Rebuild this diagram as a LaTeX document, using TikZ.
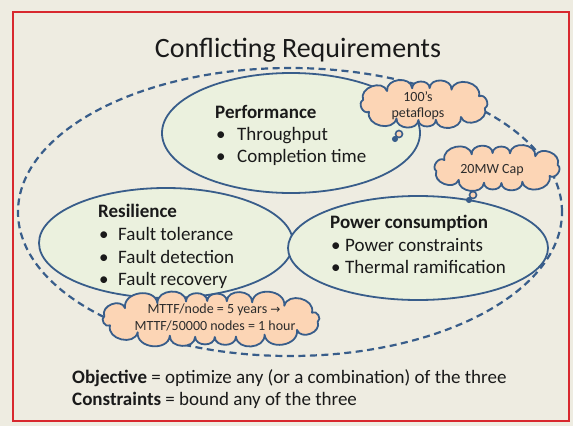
\documentclass[tikz,border=0pt]{standalone}
\usepackage{fontspec}
\setmainfont{Carlito}
\newfontfamily\symfont{DejaVu Sans}
\usetikzlibrary{shapes.geometric}

\definecolor{paper}{HTML}{EEECE1}
\definecolor{frame}{HTML}{D8282E}
\definecolor{edge}{HTML}{385D8A}
\definecolor{areafill}{HTML}{EBF1DE}
\definecolor{puff}{HTML}{FCD5B5}
\definecolor{ink}{HTML}{1A1A1A}

\tikzset{
  outerframe/.style={draw=frame, line width=2pt},
  scopering/.style={ellipse, draw=edge, line width=2.2pt, dash pattern=on 7pt off 4.5pt, inner sep=0pt},
  reqarea/.style={ellipse, draw=edge, fill=areafill, line width=1.8pt, inner sep=0pt},
  note/.style={draw=edge, fill=puff, line width=1.8pt, line join=round},
  puffedge/.style={bend left=90, looseness=1.3},
  tailring/.style={circle, draw=edge, fill=puff, line width=1.6pt, inner sep=0pt, minimum size=7pt},
  taildot/.style={circle, draw=edge, fill=edge, line width=1pt, inner sep=0pt, minimum size=5pt},
  body/.style={inner sep=0pt, anchor=base west, text=ink, font=\fontsize{19}{23}\selectfont},
  head/.style={body, font=\fontsize{19}{23}\selectfont\bfseries},
  notetext/.style={inner sep=0pt, anchor=base, text=ink!92, font=\fontsize{14}{17}\selectfont},
  titletext/.style={inner sep=0pt, anchor=base, text=ink, font=\fontsize{28}{32}\selectfont}
}

% cloud callout: centre x, centre y, radii of the core ellipse, number of puffs, phase;
% the puff points are spread so that the puffs come out of similar size
\newcommand\puffcloud[6]{%
  \draw[note] ({#1+#3*cos(#6+14.3*sin(2*#6))},{#2+#4*sin(#6+14.3*sin(2*#6))})
    foreach \k in {1,...,#5} {
      to[puffedge] ({#1+#3*cos(#6+\k*360/#5+14.3*sin(2*(#6+\k*360/#5)))},
                    {#2+#4*sin(#6+\k*360/#5+14.3*sin(2*(#6+\k*360/#5)))})
    } -- cycle;%
}

\begin{document}
\begin{tikzpicture}[x=1pt, y=-1pt]
\useasboundingbox (0,0) rectangle (573,426);
\fill[paper] (0,0) rectangle (573,426);
\draw[outerframe] (13,12) rectangle (569,421);

% title
\node[titletext] (title) at (298,57) {Conflicting Requirements};

% dashed envelope around the three requirement areas
\node[scopering, minimum width=544pt, minimum height=288pt] (scope) at (290,212) {};

% requirement areas
\node[reqarea, minimum width=258pt, minimum height=120pt] (perf) at (291,133) {};
\node[reqarea, minimum width=254pt, minimum height=110pt] (resil) at (166,243) {};
\node[reqarea, minimum width=260pt, minimum height=104pt] (power) at (418,248) {};

% Performance
\node[head] (perfhead) at (215,118) {Performance};
\node[body] (perfb1) at (216,140) {\textbullet};
\node[body] (perfi1) at (237,140) {Throughput};
\node[body] (perfb2) at (216,162) {\textbullet};
\node[body] (perfi2) at (237,162) {Completion time};

% Resilience
\node[head] (resilhead) at (98,217) {Resilience};
\node[body] (resilb1) at (99,240) {\textbullet};
\node[body] (resili1) at (118,240) {Fault tolerance};
\node[body] (resilb2) at (99,263) {\textbullet};
\node[body] (resili2) at (118,263) {Fault detection};
\node[body] (resilb3) at (99,285) {\textbullet};
\node[body] (resili3) at (118,285) {Fault recovery};

% Power consumption
\node[head] (powerhead) at (330,228) {Power consumption};
\node[body] (powerb1) at (331,251) {\textbullet};
\node[body] (poweri1) at (345,251) {Power constraints};
\node[body] (powerb2) at (331,273) {\textbullet};
\node[body] (poweri2) at (345,273) {Thermal ramification};

% callout clouds
\puffcloud{424}{104}{63}{16}{12}{10}
\node[tailring] (flopsring) at (399,134) {};
\node[taildot] (flopsdot) at (395,139) {};
\node[notetext] (flops1) at (418,101) {100’s};
\node[notetext] (flops2) at (418,117) {petaflops};

\puffcloud{497}{168}{62}{15}{12}{-8}
\node[tailring] (capring) at (473,195) {};
\node[taildot] (capdot) at (469,200) {};
\node[notetext] (cap1) at (492,173) {20MW Cap};

\puffcloud{211}{319}{108}{18}{18}{6}
\node[notetext] (mttf1) at (214,313) {MTTF/node = 5 years {\symfont\fontsize{12}{14}\selectfont →}};
\node[notetext] (mttf2) at (215,330) {MTTF/50000 nodes = 1 hour};

% objective and constraints
\node[body] (objective) at (72,383) {\textbf{Objective} = optimize any (or a combination) of the three};
\node[body] (constraints) at (72,405) {\textbf{Constraints} = bound any of the three};
\end{tikzpicture}
\end{document}
